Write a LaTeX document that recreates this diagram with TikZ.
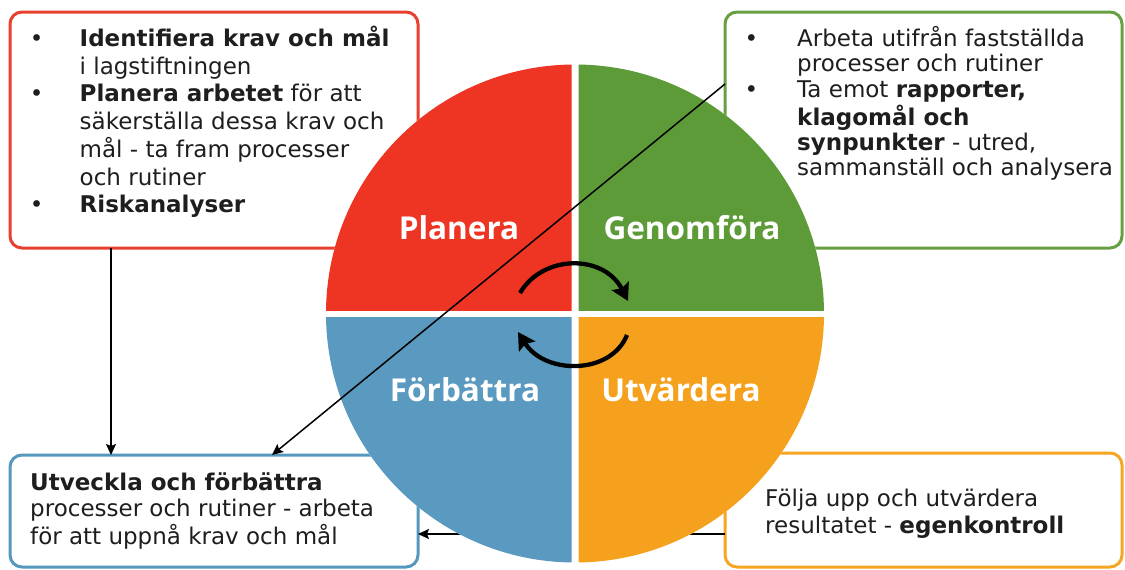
\documentclass[tikz,border=0pt]{standalone}
\usepackage{fontspec}
\setmainfont{DejaVu Sans}
\newfontfamily\quadfont{Open Sans}
\usetikzlibrary{arrows.meta}
\definecolor{qRed}{HTML}{EE3524}
\definecolor{qGreen}{HTML}{5D9B38}
\definecolor{qBlue}{HTML}{5A9AC0}
\definecolor{qOrange}{HTML}{F5A11E}
\definecolor{bRed}{HTML}{E8402E}
\definecolor{bGreen}{HTML}{66A042}
\definecolor{bBlue}{HTML}{5697BE}
\definecolor{bOrange}{HTML}{F5A623}
\definecolor{txt}{HTML}{1E1E1E}
\begin{document}
\begin{tikzpicture}[x=1pt,y=-1pt,
  infobox/.style={draw=#1, line width=3pt, fill=white, rounded corners=12pt, inner sep=0pt, outer sep=0pt},
  thinarrow/.style={draw=black, line width=1.5pt, -{Stealth[length=11pt,width=10pt,inset=2pt]}},
  cyclearrow/.style={draw=black, line width=4.3pt, -{Stealth[length=17pt,width=19pt,inset=3pt]}},
  quadlabel/.style={text=white, font=\quadfont\bfseries\fontsize{31.5}{36}\selectfont, inner sep=0pt, anchor=base},
  boxtext/.style={anchor=base west, inner sep=0pt, text=txt}
]
\fill[white] (0,0) rectangle (1125,570);
\useasboundingbox (0,0) rectangle (1125,570);

% boxes
\node[infobox=bRed, minimum width=408pt, minimum height=236pt] (tl) at (214,130) {};
\node[infobox=bGreen, minimum width=397pt, minimum height=236pt] (tr) at (923.5,130) {};
\node[infobox=bBlue, minimum width=408pt, minimum height=112pt] (bl) at (214,511) {};
\node[infobox=bOrange, minimum width=397pt, minimum height=114pt] (br) at (923.5,510) {};

% arrow behind circle
\coordinate (hy) at (600,534);
\draw[thinarrow] (br.west |- hy) -- (bl.east |- hy);

% circle quadrants
\fill[white] (575,313.5) circle[radius=249];
\begin{scope}
  \clip (0,0) rectangle (571.5,310.5);
  \fill[qRed] (575,313.5) circle[radius=249];
\end{scope}
\begin{scope}
  \clip (578.5,0) rectangle (1125,310.5);
  \fill[qGreen] (575,313.5) circle[radius=249];
\end{scope}
\begin{scope}
  \clip (0,317) rectangle (571.5,570);
  \fill[qBlue] (575,313.5) circle[radius=249];
\end{scope}
\begin{scope}
  \clip (578.5,317) rectangle (1125,570);
  \fill[qOrange] (575,313.5) circle[radius=249];
\end{scope}

% labels
\node[quadlabel] (lp) at (459,239) {Planera};
\node[quadlabel] (lg) at (692,239) {Genomföra};
\node[quadlabel] (lf) at (465,401) {Förbättra};
\node[quadlabel] (lu) at (681,401) {Utvärdera};

% cycle arrows
\coordinate (c1s) at (520,293);
\coordinate (c1e) at (628,301);
\draw[cyclearrow] (c1s) .. controls (543,254) and (604,254) .. (c1e);
\coordinate (c2s) at (627,335);
\coordinate (c2e) at (518,332);
\draw[cyclearrow] (c2s) .. controls (611,375) and (545,375) .. (c2e);

% other arrows
\coordinate (dy) at (0,84);
\coordinate (dx) at (272,0);
\draw[thinarrow] (tr.west |- dy) -- (dx |- bl.north);
\coordinate (vx) at (111,0);
\draw[thinarrow] (vx |- tl.south) -- (vx |- bl.north);

% texts
\node[boxtext] (tlt) at (29.7,46.7) {\fontsize{23}{27.5}\selectfont
\begin{tabular}[t]{@{}p{49.8pt}@{}l@{}}
\textbullet & \textbf{Identifiera krav och mål}\\
 & i lagstiftningen\\
\textbullet & \textbf{Planera arbetet} för att\\
 & säkerställa dessa krav och\\
 & mål - ta fram processer\\
 & och rutiner\\
\textbullet & \textbf{Riskanalyser}
\end{tabular}};

\node[boxtext] (trt) at (744.4,46.7) {\fontsize{23}{25.3}\selectfont
\begin{tabular}[t]{@{}p{52.6pt}@{}l@{}}
\textbullet & Arbeta utifrån fastställda\\
 & processer och rutiner\\
\textbullet & Ta emot \textbf{rapporter,}\\
 & \textbf{klagomål och}\\
 & \textbf{synpunkter} - utred,\\
 & sammanställ och analysera
\end{tabular}};

\node[boxtext] (blt) at (30,490) {\fontsize{23}{26.7}\selectfont
\begin{tabular}[t]{@{}l@{}}
\textbf{Utveckla och förbättra}\\
processer och rutiner - arbeta\\
för att uppnå krav och mål
\end{tabular}};

\node[boxtext] (brt) at (765,506.7) {\fontsize{23}{26.7}\selectfont
\begin{tabular}[t]{@{}l@{}}
Följa upp och utvärdera\\
resultatet - \textbf{egenkontroll}
\end{tabular}};
\end{tikzpicture}
\end{document}
